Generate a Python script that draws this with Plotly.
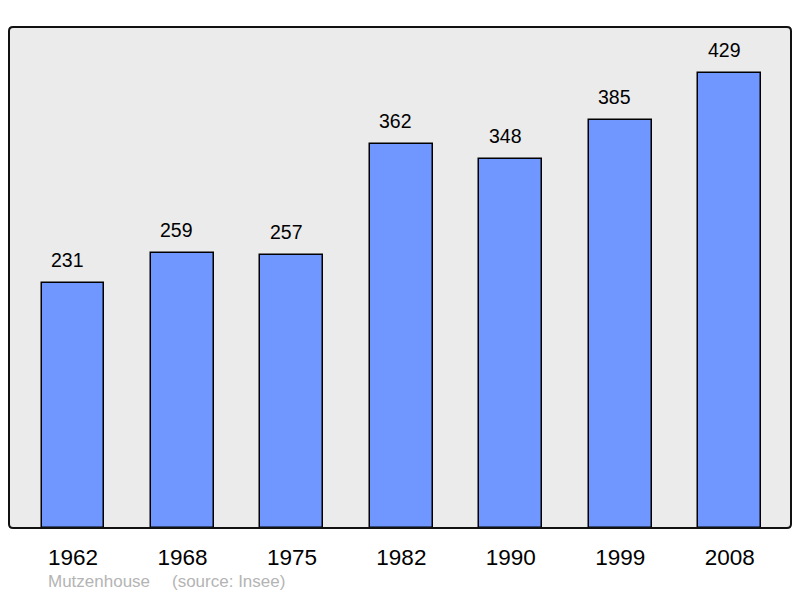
import plotly.graph_objects as go

years = ["1962", "1968", "1975", "1982", "1990", "1999", "2008"]
population = [231, 259, 257, 362, 348, 385, 429]
place = "Mutzenhouse"
source = "(source: Insee)"

xs = list(range(len(years)))
FONT = "Liberation Sans, Arial, sans-serif"

fig = go.Figure()
fig.add_trace(go.Bar(
    x=xs, y=population, width=0.575,
    marker=dict(color="#7096ff", line=dict(color="#000000", width=1.5)),
    hoverinfo="skip",
))

for x, v in zip(xs, population):
    fig.add_annotation(x=x, y=v, text=str(v), showarrow=False, yanchor="bottom",
                       yshift=10, xshift=-5.5, font=dict(family=FONT, size=19.5, color="#000"))

# rounded frame around plot area (paper coords)
W, H = 782.0, 501.0
rx, ry = 4 / W, 4 / H
path = (f"M {rx} 0 L {1-rx} 0 Q 1 0 1 {ry} L 1 {1-ry} Q 1 1 {1-rx} 1 "
        f"L {rx} 1 Q 0 1 0 {1-ry} L 0 {ry} Q 0 0 {rx} 0 Z")
fig.add_shape(type="path", xref="paper", yref="paper", path=path,
              line=dict(color="#111", width=2), layer="above")

fig.add_annotation(xref="paper", yref="paper", x=37 / W, y=-53 / H, xanchor="left", yanchor="middle",
                   text=place, showarrow=False,
                   font=dict(family=FONT, size=17, color="#b4b4b4"))
fig.add_annotation(xref="paper", yref="paper", x=161 / W, y=-53 / H, xanchor="left", yanchor="middle",
                   text=source, showarrow=False,
                   font=dict(family=FONT, size=17, color="#b4b4b4"))

fig.update_layout(
    width=784, height=582,
    margin=dict(l=1, r=1, t=19, b=62),
    plot_bgcolor="#ebebeb", paper_bgcolor="#ffffff",
    showlegend=False,
    xaxis=dict(range=[-0.585, 6.56], tickvals=xs, ticktext=years, showgrid=False, zeroline=False,
               ticks="outside", ticklen=9, tickcolor="rgba(0,0,0,0)",
               tickfont=dict(family=FONT, size=22.5, color="#000")),
    yaxis=dict(range=[0, 472.4], showgrid=False, zeroline=False, showticklabels=False, ticks=""),
    bargap=0,
)

fig.write_html("out.html")
